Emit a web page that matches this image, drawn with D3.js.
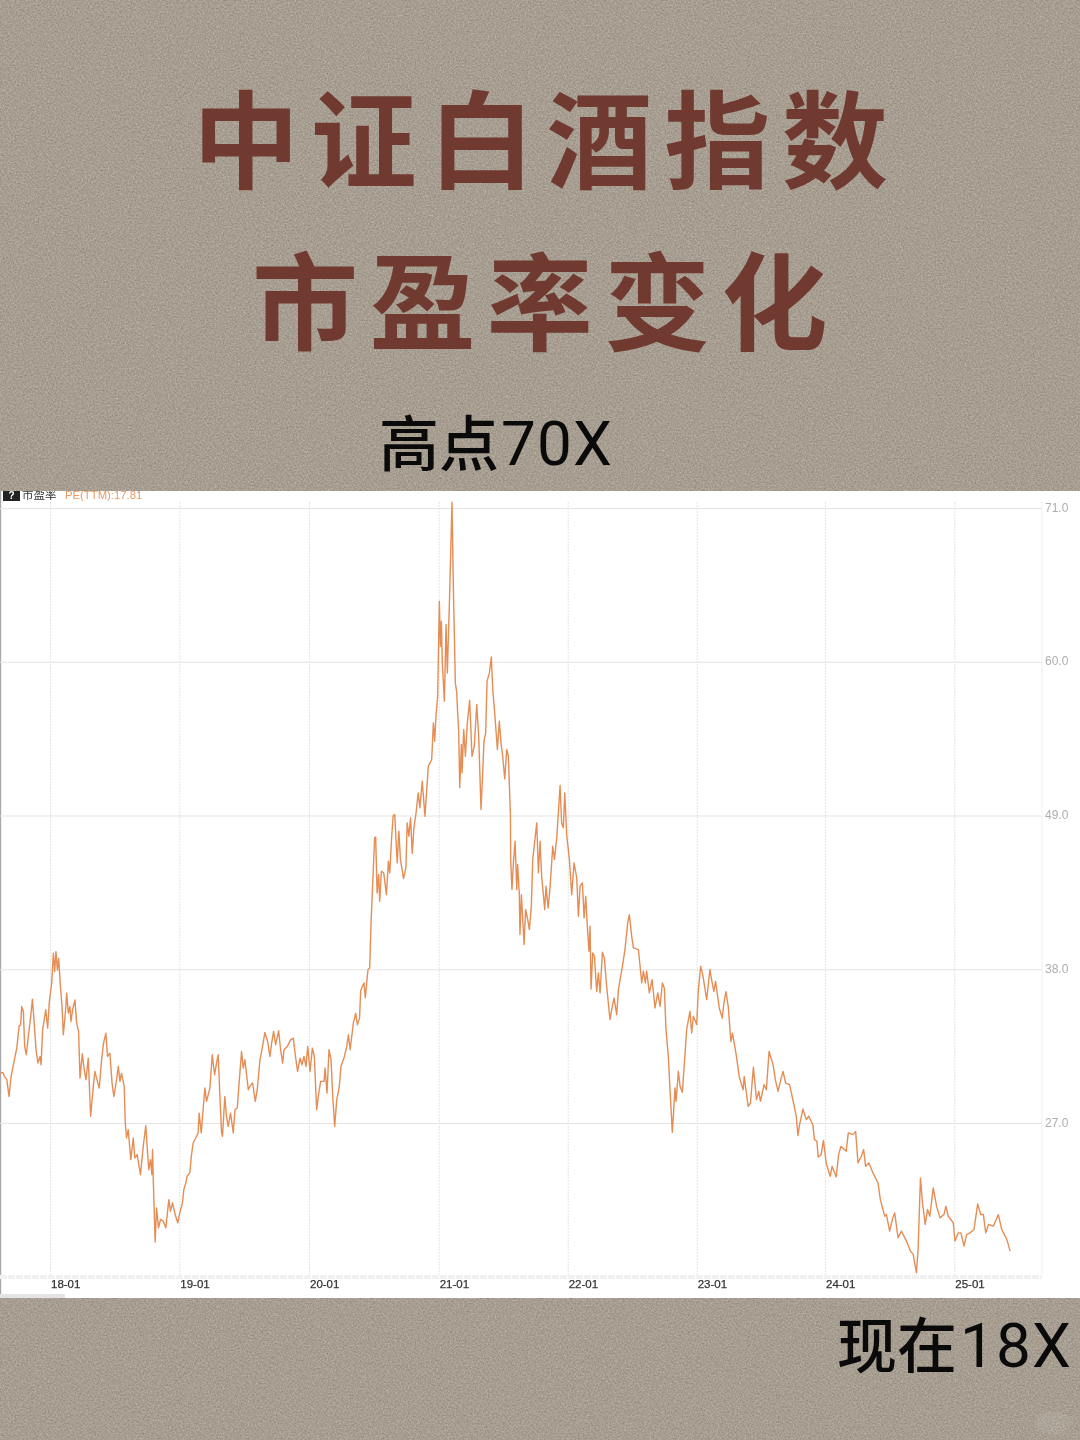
<!DOCTYPE html>
<html><head><meta charset="utf-8">
<script src="https://cdn.jsdelivr.net/npm/d3@7"></script>
<style>html,body{margin:0;padding:0;background:#a59d90}svg{display:block}</style>
</head><body><svg id="c" width="1080" height="1440"></svg>
<script>
const titleLines = ["中证白酒指数", "市盈率变化"];
const highNote = ["高点", "70X"];
const nowNote = ["现在", "18X"];
const legendName = "市盈率";
const legendValue = "PE(TTM):17.81";
const yTicks = [27, 38, 49, 60, 71];
const xTicks = [2018, 2019, 2020, 2021, 2022, 2023, 2024, 2025];
const xTickLabels = ["18-01", "19-01", "20-01", "21-01", "22-01", "23-01", "24-01", "25-01"];
// [decimal year, PE(TTM)]
const peSeries = [
[2017.614,30.57],[2017.634,30.62],[2017.650,30.29],[2017.665,30.14],[2017.683,28.90],[2017.699,30.33],[2017.717,31.17],[2017.743,32.36],[2017.761,33.95],[2017.773,34.02],[2017.781,35.33],[2017.794,34.98],[2017.804,32.48],[2017.817,31.88],[2017.835,33.43],[2017.851,34.62],[2017.864,35.86],[2017.876,34.38],[2017.892,32.24],[2017.907,31.29],[2017.923,31.76],[2017.931,31.17],[2017.943,33.67],[2017.967,35.10],[2017.982,33.79],[2017.995,35.69],
[2018.013,37.00],[2018.026,39.14],[2018.036,37.83],[2018.046,39.26],[2018.057,37.95],[2018.067,38.79],[2018.080,36.88],[2018.093,35.33],[2018.103,33.31],[2018.121,35.10],[2018.129,36.29],[2018.142,34.86],[2018.154,35.33],[2018.162,34.26],[2018.175,35.10],[2018.193,35.81],[2018.206,34.14],[2018.221,33.55],[2018.232,30.21],[2018.250,31.95],[2018.263,30.93],[2018.278,30.10],[2018.296,31.64],[2018.314,27.48],[2018.335,29.62],[2018.347,30.69],[2018.360,30.21],[2018.381,29.50],[2018.399,31.52],[2018.414,32.71],[2018.432,33.43],[2018.445,31.76],[2018.463,32.00],[2018.481,29.74],[2018.494,28.90],[2018.515,30.10],[2018.528,31.05],[2018.541,29.98],[2018.553,30.57],[2018.574,29.62],[2018.582,27.00],[2018.592,25.93],[2018.605,26.52],[2018.625,24.38],[2018.644,25.93],[2018.656,24.50],[2018.674,24.74],[2018.700,23.31],[2018.721,25.33],[2018.741,26.81],[2018.752,25.21],[2018.764,23.67],[2018.777,24.38],[2018.788,23.31],[2018.793,25.10],[2018.798,23.19],[2018.813,18.48],[2018.824,20.93],[2018.839,19.50],[2018.855,20.10],[2018.875,19.98],[2018.896,19.50],[2018.919,21.52],[2018.932,20.69],[2018.947,21.29],[2018.968,20.45],[2018.988,19.86],
[2019.004,20.57],[2019.024,21.29],[2019.035,22.24],[2019.050,22.71],[2019.060,23.19],[2019.081,23.43],[2019.094,24.74],[2019.107,25.57],[2019.133,26.05],[2019.145,26.29],[2019.153,27.71],[2019.169,26.29],[2019.197,29.50],[2019.210,28.55],[2019.236,29.50],[2019.254,31.88],[2019.272,30.45],[2019.287,31.29],[2019.300,31.88],[2019.313,28.90],[2019.326,26.29],[2019.333,26.05],[2019.351,28.90],[2019.364,27.48],[2019.377,26.76],[2019.395,27.71],[2019.416,26.29],[2019.429,27.95],[2019.447,28.07],[2019.462,29.98],[2019.480,32.12],[2019.493,30.93],[2019.506,31.52],[2019.532,29.38],[2019.544,29.62],[2019.565,29.86],[2019.586,28.55],[2019.601,29.38],[2019.622,31.52],[2019.642,32.48],[2019.660,33.48],[2019.681,32.83],[2019.699,31.76],[2019.712,32.71],[2019.727,33.55],[2019.743,32.60],[2019.766,33.60],[2019.781,32.24],[2019.797,31.29],[2019.807,32.24],[2019.833,32.48],[2019.858,32.95],[2019.879,33.07],[2019.894,31.88],[2019.912,30.69],[2019.931,31.64],[2019.946,31.17],[2019.961,31.76],[2019.977,31.05],[2019.990,32.48],
[2020.008,30.69],[2020.026,32.36],[2020.041,31.76],[2020.059,27.95],[2020.075,29.14],[2020.090,29.98],[2020.116,29.98],[2020.124,30.93],[2020.139,29.14],[2020.154,32.24],[2020.170,31.52],[2020.183,28.90],[2020.198,26.76],[2020.214,28.67],[2020.232,29.50],[2020.247,31.05],[2020.273,31.76],[2020.291,32.48],[2020.304,33.31],[2020.317,32.24],[2020.342,34.14],[2020.360,34.86],[2020.373,34.02],[2020.390,34.52],[2020.398,36.42],[2020.411,36.78],[2020.424,37.02],[2020.434,35.95],[2020.447,37.26],[2020.455,37.98],[2020.468,38.09],[2020.478,41.20],[2020.488,43.46],[2020.506,47.40],[2020.514,47.47],[2020.525,43.46],[2020.537,44.78],[2020.545,42.87],[2020.558,45.01],[2020.576,44.90],[2020.597,43.34],[2020.612,45.73],[2020.623,44.90],[2020.636,47.28],[2020.649,49.00],[2020.661,49.07],[2020.680,45.61],[2020.693,47.88],[2020.705,45.85],[2020.729,44.49],[2020.747,45.25],[2020.757,48.47],[2020.770,47.52],[2020.783,48.83],[2020.796,46.28],[2020.809,48.12],[2020.824,49.07],[2020.842,50.62],[2020.855,49.55],[2020.873,51.46],[2020.894,48.95],[2020.920,52.53],[2020.946,53.01],[2020.959,55.63],[2020.969,54.32],[2020.979,56.10],[2020.992,57.53],
[2021.005,64.33],[2021.013,61.11],[2021.021,62.90],[2021.028,59.92],[2021.044,57.18],[2021.057,62.66],[2021.067,59.20],[2021.083,64.21],[2021.103,71.41],[2021.114,65.16],[2021.129,58.49],[2021.140,57.77],[2021.147,56.34],[2021.155,55.03],[2021.163,50.98],[2021.176,54.08],[2021.181,52.05],[2021.194,55.15],[2021.207,53.24],[2021.222,55.63],[2021.240,57.25],[2021.258,53.24],[2021.276,53.96],[2021.295,56.94],[2021.310,54.67],[2021.328,49.43],[2021.341,52.05],[2021.351,54.32],[2021.364,54.91],[2021.375,58.61],[2021.393,59.20],[2021.408,60.35],[2021.419,58.01],[2021.434,56.34],[2021.455,53.72],[2021.470,55.75],[2021.483,54.20],[2021.496,53.24],[2021.512,51.62],[2021.527,53.72],[2021.540,53.24],[2021.556,49.00],[2021.558,45.85],[2021.568,43.70],[2021.579,45.61],[2021.592,47.16],[2021.605,43.70],[2021.612,45.49],[2021.625,43.34],[2021.630,40.48],[2021.641,43.34],[2021.662,39.77],[2021.674,42.27],[2021.690,41.55],[2021.703,40.84],[2021.718,42.51],[2021.729,45.85],[2021.760,48.47],[2021.773,44.90],[2021.786,47.16],[2021.798,44.66],[2021.822,42.27],[2021.832,43.94],[2021.848,42.39],[2021.863,43.82],[2021.884,46.80],[2021.897,45.85],[2021.915,47.40],[2021.930,49.55],[2021.941,51.15],[2021.953,48.47],[2021.966,48.12],[2021.977,50.62],[2021.992,47.64],
[2022.013,45.85],[2022.031,43.34],[2022.049,45.61],[2022.070,44.54],[2022.083,41.79],[2022.096,43.94],[2022.114,44.18],[2022.127,41.67],[2022.140,43.22],[2022.152,41.08],[2022.165,39.29],[2022.173,41.08],[2022.181,36.59],[2022.194,39.17],[2022.207,38.93],[2022.225,36.42],[2022.238,37.74],[2022.251,36.31],[2022.269,39.22],[2022.284,38.81],[2022.302,36.78],[2022.328,34.40],[2022.341,35.11],[2022.359,35.95],[2022.380,34.75],[2022.393,36.54],[2022.411,37.50],[2022.424,38.21],[2022.444,39.41],[2022.465,41.32],[2022.478,41.91],[2022.496,40.36],[2022.509,39.53],[2022.548,39.41],[2022.574,37.02],[2022.587,37.86],[2022.602,37.02],[2022.612,37.86],[2022.633,36.31],[2022.654,37.26],[2022.677,35.23],[2022.698,36.31],[2022.716,35.35],[2022.734,37.02],[2022.749,36.66],[2022.762,33.68],[2022.780,31.77],[2022.793,29.39],[2022.811,26.33],[2022.832,29.51],[2022.840,28.55],[2022.858,30.70],[2022.871,29.62],[2022.889,29.20],[2022.910,32.01],[2022.922,33.68],[2022.948,34.99],[2022.961,33.44],[2022.974,34.64],
[2023.000,34.04],[2023.013,36.54],[2023.031,38.21],[2023.047,37.62],[2023.078,35.83],[2023.103,37.98],[2023.116,37.26],[2023.134,36.42],[2023.147,37.14],[2023.176,35.23],[2023.199,34.50],[2023.212,35.57],[2023.228,36.40],[2023.246,35.33],[2023.266,32.83],[2023.279,33.43],[2023.310,31.76],[2023.331,30.33],[2023.362,29.38],[2023.370,30.33],[2023.401,28.19],[2023.419,28.43],[2023.442,31.00],[2023.466,28.67],[2023.484,29.26],[2023.497,28.55],[2023.525,29.74],[2023.543,29.38],[2023.564,32.12],[2023.595,31.17],[2023.613,30.10],[2023.634,29.26],[2023.652,29.98],[2023.673,30.69],[2023.693,29.86],[2023.724,29.74],[2023.755,28.43],[2023.776,27.48],[2023.789,26.10],[2023.802,26.88],[2023.828,28.00],[2023.854,27.24],[2023.874,27.48],[2023.905,26.88],[2023.918,25.81],[2023.937,25.69],[2023.947,24.57],[2023.970,24.74],[2023.988,25.76],
[2024.009,24.14],[2024.040,23.19],[2024.055,23.90],[2024.087,23.14],[2024.105,24.74],[2024.123,25.33],[2024.164,24.98],[2024.180,26.29],[2024.216,26.17],[2024.237,26.40],[2024.255,24.14],[2024.281,24.62],[2024.299,25.10],[2024.314,23.90],[2024.340,24.14],[2024.371,23.43],[2024.410,22.71],[2024.428,21.52],[2024.462,20.33],[2024.475,20.45],[2024.500,19.26],[2024.521,20.10],[2024.539,20.57],[2024.565,18.79],[2024.591,19.26],[2024.630,18.55],[2024.661,17.83],[2024.682,17.60],[2024.707,16.29],[2024.720,17.95],[2024.738,23.07],[2024.754,21.29],[2024.775,19.74],[2024.793,20.81],[2024.811,20.33],[2024.837,22.36],[2024.863,21.05],[2024.889,20.21],[2024.920,20.45],[2024.935,21.05],[2024.953,20.33],[2024.992,19.86],
[2025.005,18.55],[2025.031,19.14],[2025.051,19.14],[2025.075,18.19],[2025.095,19.02],[2025.121,19.14],[2025.152,19.38],[2025.181,21.21],[2025.204,20.45],[2025.225,20.45],[2025.243,19.14],[2025.264,19.74],[2025.302,19.62],[2025.341,20.45],[2025.367,19.38],[2025.406,18.67],[2025.432,17.83]
];

const svg = d3.select("#c");
const W = 1080, H = 1440;
const cjk = "'Noto Sans CJK SC','Noto Sans',sans-serif";
const latin = "'Liberation Sans',Arial,sans-serif";

// paper texture
const defs = svg.append("defs");
const f = defs.append("filter").attr("id","paper").attr("x",0).attr("y",0).attr("width","100%").attr("height","100%")
  .attr("color-interpolation-filters","sRGB");
f.append("feTurbulence").attr("type","fractalNoise").attr("baseFrequency",0.6).attr("numOctaves",3).attr("seed",7);
f.append("feColorMatrix").attr("type","matrix")
  .attr("values","0.24 0 0 0 0.535  0.24 0 0 0 0.5  0.24 0 0 0 0.45  0 0 0 0 1");
f.append("feGaussianBlur").attr("stdDeviation",0.4);
svg.append("rect").attr("width",W).attr("height",H).attr("fill","#a79f93").attr("filter","url(#paper)");
const soft = defs.append("filter").attr("id","soft").attr("x","-2%").attr("y","-2%").attr("width","104%").attr("height","104%");
soft.append("feGaussianBlur").attr("stdDeviation",0.35);

// title
const titleX = [193, 252], titleY = [180, 342], titleSpacing = [11.8, 11.4];
svg.selectAll("text.title").data(titleLines).join("text").attr("class","title")
  .attr("x",(d,i)=>titleX[i]).attr("y",(d,i)=>titleY[i])
  .attr("font-family",cjk).attr("font-weight",700).attr("font-size",106)
  .attr("letter-spacing",(d,i)=>titleSpacing[i]).attr("fill","#713a31").text(d=>d);

function note(parts, x1, x2, base){
  const g = svg.append("g").attr("fill","#0a0a0a");
  g.append("text").attr("x",x1).attr("y",base).attr("font-family",cjk).attr("font-weight",500).attr("font-size",60).text(parts[0]);
  g.append("text").attr("x",x2).attr("y",base-1).attr("font-family","Roboto,sans-serif").attr("font-weight",400)
    .attr("letter-spacing",1.2).attr("font-size",62).text(parts[1]);
}
note(highNote, 379, 501, 466);
note(nowNote, 837, 960, 1368);

// faint corner watermark
svg.append("ellipse").attr("cx",1053).attr("cy",1423).attr("rx",18).attr("ry",12).attr("fill","#fff").attr("opacity",0.07);

// chart panel
svg.append("rect").attr("x",0).attr("y",491).attr("width",W).attr("height",807).attr("fill","#fff");
svg.append("rect").attr("x",0).attr("y",491).attr("width",1.2).attr("height",807).attr("fill","#a8a8a8");

const x = d3.scaleLinear().domain(xTicks).range([50,179.3,309,438.7,567.7,696.7,825,954.3]);
const y = d3.scaleLinear().domain([27,71]).range([1123,508]);
const plotRight = 1042, plotBottom = 1275, plotTop = 502;
const grid = "#e4e4e4";

const chart = svg.append("g").attr("filter","url(#soft)");
const gy = chart.append("g").call(d3.axisRight(y).tickValues(yTicks).tickSize(plotRight).tickFormat(d3.format(".1f")));
gy.select(".domain").remove();
gy.selectAll("line").attr("stroke",grid).attr("stroke-width",1);
gy.selectAll("text").attr("x",1045).attr("dy","0").attr("dominant-baseline","middle")
  .attr("font-family",latin).attr("font-size",12).attr("fill","#adadad");

const gx = chart.append("g").attr("transform",`translate(0,${plotBottom})`)
  .call(d3.axisBottom(x).tickValues(xTicks).tickSize(plotTop-plotBottom).tickFormat((d,i)=>xTickLabels[i]));
gx.select(".domain").remove();
gx.selectAll("line").attr("stroke",grid).attr("stroke-width",1).attr("stroke-dasharray","2 1");
gx.selectAll("text").attr("y",13).attr("dy","0").attr("text-anchor","start").attr("dx",0.5)
  .attr("font-family",latin).attr("font-size",11.5).attr("stroke","#333").attr("stroke-width",0.25).attr("fill","#333");

// plot frame and mini time band
chart.append("line").attr("x1",plotRight).attr("x2",plotRight).attr("y1",plotTop).attr("y2",plotBottom).attr("stroke","#efefef");
chart.append("line").attr("x1",0).attr("x2",plotRight).attr("y1",plotBottom+2).attr("y2",plotBottom+2)
  .attr("stroke","#f1f1f1").attr("stroke-width",4).attr("stroke-dasharray","7 1");
chart.append("rect").attr("x",0).attr("y",1294).attr("width",65).attr("height",4).attr("fill","#e3e3e3");

// series
chart.append("path").datum(peSeries)
  .attr("d",d3.line().x(d=>x(d[0])).y(d=>y(d[1])))
  .attr("fill","none").attr("stroke","#e58d55").attr("stroke-width",1.4).attr("stroke-linejoin","round");

// legend
const clip = defs.append("clipPath").attr("id","panel");
clip.append("rect").attr("x",0).attr("y",491).attr("width",W).attr("height",20);
const lg = svg.append("g").attr("clip-path","url(#panel)");
lg.append("rect").attr("x",3).attr("y",490).attr("width",17).attr("height",11).attr("fill","#222");
lg.append("text").attr("x",11.5).attr("y",499).attr("text-anchor","middle").attr("font-family",latin)
  .attr("font-size",10).attr("font-weight",700).attr("fill","#fff").text("?");
lg.append("text").attr("x",22).attr("y",498.5).attr("font-family",cjk).attr("font-size",11.5).attr("fill","#333").text(legendName);
lg.append("text").attr("x",65).attr("y",498.5).attr("font-family",latin).attr("font-size",11.3).attr("fill","#e89a64").text(legendValue);
</script></body></html>
